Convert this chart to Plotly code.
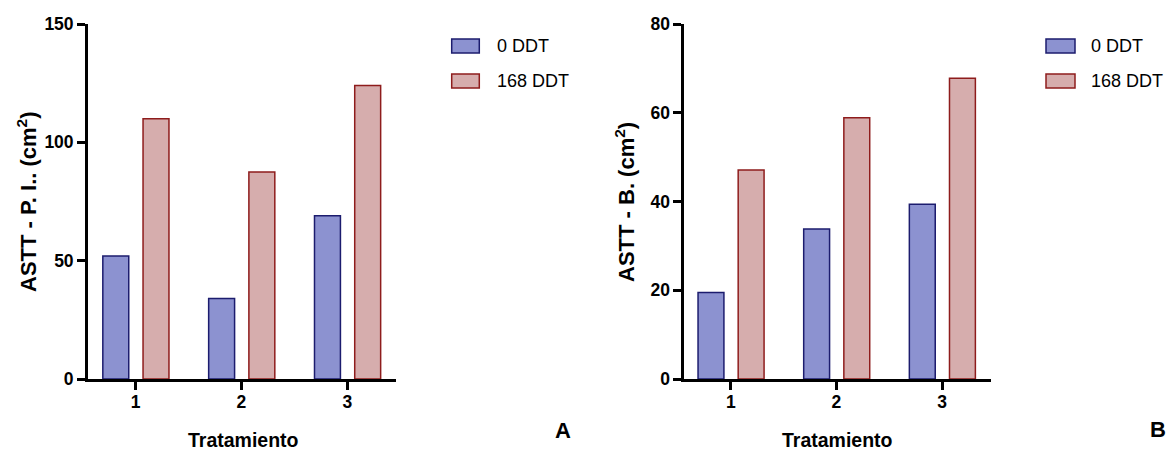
import plotly.graph_objects as go

W, H = 1174, 450

categories = [1, 2, 3]
series_names = ["0 DDT", "168 DDT"]
a_ddt0 = [52, 34, 69]
a_ddt168 = [110, 87.5, 124]
b_ddt0 = [19.5, 33.8, 39.4]
b_ddt168 = [47.1, 58.9, 67.8]

a_yticks = [0, 50, 100, 150]
b_yticks = [0, 20, 40, 60, 80]

FILL = ["#8c92d0", "#d6adad"]
EDGE = ["#1c1c6e", "#8e1c1c"]
FONT = "Liberation Sans, Arial, sans-serif"

def px(x):
    return x / W

def py(y):
    return 1 - y / H

fig = go.Figure()

offsets = [-0.31, 0.07]
width = 0.245
for (xa, ya, vals) in [("x", "y", [a_ddt0, a_ddt168]), ("x2", "y2", [b_ddt0, b_ddt168])]:
    for i, v in enumerate(vals):
        fig.add_trace(go.Bar(
            x=categories, y=v, name=series_names[i], xaxis=xa, yaxis=ya,
            width=width, offset=offsets[i],
            marker=dict(color=FILL[i], line=dict(color=EDGE[i], width=1.5)),
            showlegend=False,
        ))

ydom = [py(379), py(24)]
axis_common = dict(
    showline=True, linecolor="black", linewidth=2.8,
    ticks="outside", ticklen=8, tickwidth=2.5, tickcolor="black",
    tickfont=dict(family=FONT, size=17.5, color="black", weight="bold"),
    showgrid=False, zeroline=False, automargin=False,
)

fig.update_layout(
    width=W, height=H,
    margin=dict(l=0, r=0, t=0, b=0),
    paper_bgcolor="white", plot_bgcolor="white",
    barmode="group",
    xaxis=dict(domain=[px(88), px(396)], range=[0.55, 3.46], tickvals=categories,
               anchor="y", ticklabelstandoff=-3, **axis_common),
    yaxis=dict(domain=ydom, range=[0, 150], tickvals=a_yticks, anchor="x", **axis_common),
    xaxis2=dict(domain=[px(684.3), px(990.7)], range=[0.56, 3.46], tickvals=categories,
                anchor="y2", ticklabelstandoff=-3, **axis_common),
    yaxis2=dict(domain=ydom, range=[0, 80], tickvals=b_yticks, anchor="x2", **axis_common),
)

annotations = []
shapes = []

# axis titles
for xc in [243, 837]:
    annotations.append(dict(text="<b>Tratamiento</b>", x=px(xc), y=py(440), xref="paper", yref="paper",
                            showarrow=False, xanchor="center", yanchor="middle",
                            font=dict(family=FONT, size=19.5, color="black")))
for xc, t in [(27, "<b>ASTT - P. I.. (cm<sup>2</sup>)</b>"), (625, "<b>ASTT - B. (cm<sup>2</sup>)</b>")]:
    annotations.append(dict(text=t, x=px(xc), y=py(202), xref="paper", yref="paper",
                            showarrow=False, xanchor="center", yanchor="middle", textangle=-90,
                            font=dict(family=FONT, size=22, color="black")))

# panel letters
for xc, yc, t in [(563, 430, "A"), (1158, 429, "B")]:
    annotations.append(dict(text="<b>" + t + "</b>", x=px(xc), y=py(yc), xref="paper", yref="paper",
                            showarrow=False, xanchor="center", yanchor="middle",
                            font=dict(family=FONT, size=22, color="black")))

# legends
for sx0, sx1, tx in [(451.7, 479.3, 495), (1046, 1075, 1089)]:
    for i, (yc) in enumerate([46, 81]):
        shapes.append(dict(type="rect", xref="paper", yref="paper",
                           x0=px(sx0), x1=px(sx1), y0=py(yc + 7), y1=py(yc - 7),
                           fillcolor=FILL[i], line=dict(color=EDGE[i], width=1.5)))
        annotations.append(dict(text=series_names[i], x=px(tx), y=py(yc), xref="paper", yref="paper",
                                showarrow=False, xanchor="left", yanchor="middle",
                                font=dict(family=FONT, size=18, color="black")))

fig.update_layout(annotations=annotations, shapes=shapes)

fig.write_html("out.html")
